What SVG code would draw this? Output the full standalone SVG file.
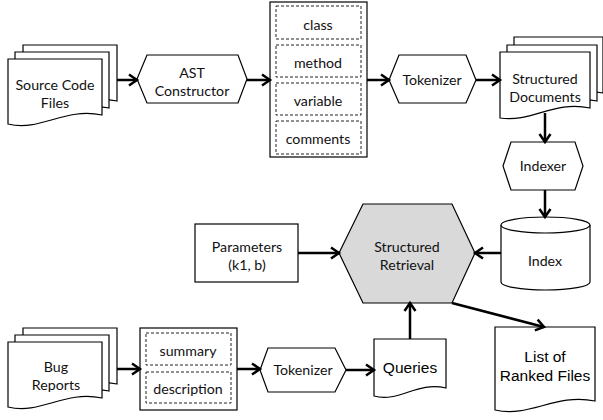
<svg xmlns="http://www.w3.org/2000/svg" width="603" height="420" viewBox="0 0 603 420">
<style>
.s{fill:#fff;stroke:#000;stroke-width:1.2}
.g{fill:#d9d9d9;stroke:#000;stroke-width:1.2}
.d{fill:none;stroke:#222;stroke-width:1;stroke-dasharray:3 2}
.t{font-family:Lato,"Open Sans",sans-serif;font-size:14.2px;fill:#111;text-anchor:middle}
.a{font-family:"Liberation Sans",Arial,sans-serif;font-size:15.5px;fill:#000;text-anchor:middle}
.c{fill:none;stroke:#000;stroke-width:2.5}
</style>
<defs>
<marker id="ar" markerUnits="userSpaceOnUse" markerWidth="14" markerHeight="14" viewBox="0 0 14 14" refX="11" refY="7" orient="auto">
<path d="M3,1.5 L11,7 L3,12.5" fill="none" stroke="#000" stroke-width="2.5"/>
</marker>
</defs>
<g id="source-code-files">
<path class="s" d="M23,45 H117 V101 C79,93 56,118 23,110 Z"/>
<path class="s" d="M15,52 H109 V108 C71,100 48,125 15,117 Z"/>
<path class="s" d="M8,59 H102 V115 C64,107 41,132 8,124 Z"/>
<text class="t" x="55" y="90">Source Code</text>
<text class="t" x="55" y="108">Files</text>
</g>
<g id="ast-constructor">
<polygon class="s" points="137,79 147,55 238,55 247,79 238,103 147,103"/>
<text class="t" x="192" y="78">AST</text>
<text class="t" x="192" y="96">Constructor</text>
</g>
<g id="fields">
<rect class="s" x="270" y="2" width="97" height="155"/>
<rect class="d" x="276" y="6" width="85" height="33"/>
<rect class="d" x="276" y="45" width="85" height="32"/>
<rect class="d" x="276" y="83" width="85" height="32"/>
<rect class="d" x="276" y="121" width="85" height="33"/>
<text class="t" x="318" y="30">class</text>
<text class="t" x="318" y="68">method</text>
<text class="t" x="318" y="106">variable</text>
<text class="t" x="318" y="144">comments</text>
</g>
<g id="tokenizer1">
<polygon class="s" points="389,80 399,55 466,55 476,80 466,103 399,103"/>
<text class="t" x="432" y="85">Tokenizer</text>
</g>
<g id="structured-documents">
<path class="s" d="M514,37 H603 V93 C567,85 545,108 514,103 Z"/>
<path class="s" d="M507,45 H597 V101 C561,93 539,116 507,111 Z"/>
<path class="s" d="M500,52 H590 V108 C554,100 532,123 500,118 Z"/>
<text class="t" x="545" y="84">Structured</text>
<text class="t" x="545" y="102">Documents</text>
</g>
<g id="indexer">
<polygon class="s" points="503,166 511,142 575,142 583,166 575,190 511,190"/>
<text class="t" x="543" y="171">Indexer</text>
</g>
<g id="index">
<path class="s" d="M501,225 V282 A44.5,8 0 0 0 590,282 V225"/>
<ellipse class="s" cx="545.5" cy="225" rx="44.5" ry="8"/>
<text class="t" x="545" y="266">Index</text>
</g>
<g id="parameters">
<rect class="s" x="195" y="224" width="103" height="58"/>
<text class="t" x="247" y="252">Parameters</text>
<text class="t" x="247" y="270">(k1, b)</text>
</g>
<g id="structured-retrieval">
<polygon class="g" points="339,253 363,204 452,204 475,253 452,303 363,303"/>
<text class="t" x="407" y="252">Structured</text>
<text class="t" x="407" y="270">Retrieval</text>
</g>
<g id="bug-reports">
<path class="s" d="M23,328 H117 V384 C79,376 56,401 23,393 Z"/>
<path class="s" d="M15,335 H109 V391 C71,383 48,408 15,400 Z"/>
<path class="s" d="M8,342 H102 V398 C64,390 41,415 8,407 Z"/>
<text class="t" x="56" y="372">Bug</text>
<text class="t" x="56" y="390">Reports</text>
</g>
<g id="bug-fields">
<rect class="s" x="140" y="328" width="97" height="82"/>
<rect class="d" x="146" y="333" width="85" height="32"/>
<rect class="d" x="146" y="372" width="85" height="31"/>
<text class="t" x="188" y="356">summary</text>
<text class="t" x="188" y="394">description</text>
</g>
<g id="tokenizer2">
<polygon class="s" points="260,370 268,348 335,348 346,370 335,392 268,392"/>
<text class="t" x="303" y="375">Tokenizer</text>
</g>
<g id="queries">
<path class="s" d="M374,339 H446 V388 C417,381 399,403 374,396 Z"/>
<text class="a" x="410" y="373">Queries</text>
</g>
<g id="ranked-files">
<path class="s" d="M495,327 H595 V401 C555,393 530,418 495,410 Z"/>
<text class="a" x="545" y="362">List of</text>
<text class="a" x="545" y="381">Ranked Files</text>
</g>
<g id="connectors">
<line class="c" x1="117" y1="80" x2="137" y2="80" marker-end="url(#ar)"/>
<line class="c" x1="247" y1="80" x2="270" y2="80" marker-end="url(#ar)"/>
<line class="c" x1="367" y1="80" x2="389" y2="80" marker-end="url(#ar)"/>
<line class="c" x1="476" y1="80" x2="500" y2="80" marker-end="url(#ar)"/>
<line class="c" x1="545" y1="113" x2="545" y2="142" marker-end="url(#ar)"/>
<line class="c" x1="545" y1="190" x2="545" y2="217" marker-end="url(#ar)"/>
<line class="c" x1="501" y1="253" x2="475" y2="253" marker-end="url(#ar)"/>
<line class="c" x1="298" y1="253" x2="339" y2="253" marker-end="url(#ar)"/>
<line class="c" x1="410" y1="339" x2="410" y2="303" marker-end="url(#ar)"/>
<line class="c" x1="452" y1="303" x2="544" y2="327" marker-end="url(#ar)"/>
<line class="c" x1="117" y1="369" x2="140" y2="369" marker-end="url(#ar)"/>
<line class="c" x1="237" y1="369" x2="260" y2="369" marker-end="url(#ar)"/>
<line class="c" x1="346" y1="370" x2="374" y2="370" marker-end="url(#ar)"/>
</g>
</svg>
